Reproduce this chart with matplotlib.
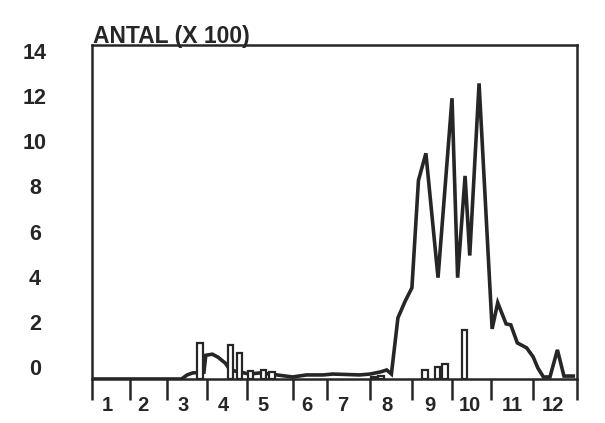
import matplotlib
matplotlib.use("Agg")
import matplotlib.pyplot as plt
from matplotlib import transforms

# weekly counts (x 100); x axis in weeks from the start of the year
line_weeks = [0, 9.6, 10.2, 10.8, 12.0, 12.2, 12.9, 13.5, 14.3, 14.8, 15.9, 16.9,
              18.0, 19.1, 21.5, 23.0, 24.8, 25.8, 28.7, 29.8, 30.9, 31.6, 32.1,
              32.8, 33.6, 34.3, 35.0, 35.8, 37.1, 38.6, 39.2, 40.0, 40.5, 41.5,
              42.9, 43.5, 44.4, 44.9, 45.6, 46.6, 47.3, 47.8, 48.4, 49.1, 49.9,
              50.6, 51.6]
line_values = [0, 0, 0.18, 0.27, 0.3, 1.05, 1.1, 0.97, 0.7, 0.4, 0.3, 0.22,
               0.27, 0.22, 0.09, 0.18, 0.18, 0.22, 0.18, 0.22, 0.31, 0.4, 0.22,
               2.71, 3.47, 4.04, 8.8, 10.0, 4.49, 12.44, 4.49, 9.0, 5.47, 13.1,
               2.22, 3.38, 2.44, 2.4, 1.6, 1.38, 0.98, 0.49, 0.09, 0.09, 1.29,
               0.13, 0.13]

bar_weeks = [11.6, 14.85, 15.8, 17.0, 18.4, 19.3, 30.2, 31.0, 35.7, 37.05, 37.85, 39.95]
bar_values = [1.6, 1.5, 1.15, 0.35, 0.4, 0.3, 0.1, 0.12, 0.4, 0.53, 0.66, 2.17]

month_edges = [0, 4.07, 8.04, 12.33, 16.62, 21.55, 25.2, 29.8, 34.3, 38.6, 42.8, 47.3, 52.0]
month_label_pos = [1.6, 5.47, 9.76, 14.05, 18.33, 23.05, 26.9, 31.63, 36.24, 40.53, 45.03, 49.43]
month_labels = [str(m) for m in range(1, 13)]

y_ticks = [0, 2, 4, 6, 8, 10, 12, 14]

ink = "#262626"
plt.rcParams["font.family"] = ["Liberation Sans", "DejaVu Sans"]
plt.rcParams["font.weight"] = "bold"

fig = plt.figure(figsize=(6.05, 4.23), dpi=100)
ax = fig.add_axes([92 / 605, 1 - 379 / 423, 485 / 605, 334 / 423])

ax.plot(line_weeks, line_values, color=ink, linewidth=2.6, solid_joinstyle="miter", zorder=2)
ax.bar(bar_weeks, bar_values, width=0.6, facecolor="white", edgecolor=ink,
       linewidth=1.6, zorder=3)

ax.set_xlim(0, 52)
ax.set_ylim(0, 14.8)

for side in ["left", "right", "top", "bottom"]:
    ax.spines[side].set_color(ink)
    ax.spines[side].set_linewidth(1.8)

ax.set_xticks(month_edges)
ax.set_xticklabels([])
ax.tick_params(axis="x", which="major", direction="out", length=15, width=1.8, color=ink)
ax.set_xticks(month_label_pos, minor=True)
ax.set_xticklabels(month_labels, minor=True, fontsize=14.5, color=ink)
ax.tick_params(axis="x", which="minor", length=0, pad=12)

ax.set_yticks([])
label_trans = transforms.offset_copy(
    transforms.blended_transform_factory(ax.transAxes, ax.transData),
    fig=fig, y=9.5, units="dots")
for v in y_ticks:
    ax.text(-0.1175, v, str(v), transform=label_trans, ha="center", va="center",
            fontsize=15.5, color=ink)

ax.text(0.002, 1.0, "ANTAL (X 100)", transform=transforms.offset_copy(
    ax.transAxes, fig=fig, y=2, units="dots"), ha="left", va="baseline",
    fontsize=16.5, color=ink)

fig.savefig("out.png", dpi=100, facecolor="white")
